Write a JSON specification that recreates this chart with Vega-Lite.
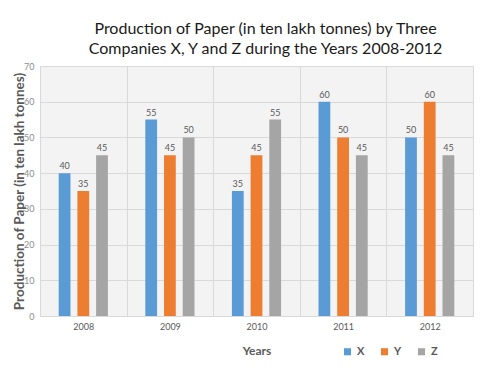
{
  "$schema": "https://vega.github.io/schema/vega-lite/v6.json",
  "autosize": "none",
  "width": 433,
  "height": 250,
  "padding": {"left": 40, "top": 66, "right": 20, "bottom": 58},
  "background": "white",
  "title": {
    "text": ["Production of Paper (in ten lakh tonnes) by Three", "Companies X, Y and Z during the Years 2008-2012"],
    "font": "Lato",
    "fontSize": 16,
    "fontWeight": "normal",
    "color": "#1a1a1a",
    "anchor": "middle",
    "frame": "group",
    "dx": 9,
    "offset": 5,
    "lineHeight": 20
  },
  "data": {
    "values": [
      {"year": "2008", "company": "X", "value": 40},
      {"year": "2008", "company": "Y", "value": 35},
      {"year": "2008", "company": "Z", "value": 45},
      {"year": "2009", "company": "X", "value": 55},
      {"year": "2009", "company": "Y", "value": 45},
      {"year": "2009", "company": "Z", "value": 50},
      {"year": "2010", "company": "X", "value": 35},
      {"year": "2010", "company": "Y", "value": 45},
      {"year": "2010", "company": "Z", "value": 55},
      {"year": "2011", "company": "X", "value": 60},
      {"year": "2011", "company": "Y", "value": 50},
      {"year": "2011", "company": "Z", "value": 45},
      {"year": "2012", "company": "X", "value": 50},
      {"year": "2012", "company": "Y", "value": 60},
      {"year": "2012", "company": "Z", "value": 45}
    ]
  },
  "encoding": {
    "x": {
      "field": "year",
      "type": "nominal",
      "scale": {"paddingInner": 0, "paddingOuter": 0},
      "axis": {
        "title": "Years",
        "titleFont": "Lato",
        "titleFontSize": 12,
        "titleFontWeight": "bold",
        "titleColor": "#595959",
        "titlePadding": 14,
        "labelAngle": 0,
        "labelFont": "Lato",
        "labelFontSize": 9,
        "labelColor": "#595959",
        "labelPadding": 6,
        "grid": true,
        "gridColor": "#d9d9d9",
        "tickBand": "extent",
        "ticks": false,
        "domain": true,
        "domainColor": "#d9d9d9"
      }
    },
    "xOffset": {
      "field": "company",
      "type": "nominal",
      "scale": {"paddingInner": 0.37, "paddingOuter": 1}
    },
    "y": {
      "field": "value",
      "type": "quantitative",
      "scale": {"domain": [0, 70]},
      "axis": {
        "values": [0, 10, 20, 30, 40, 50, 60, 70],
        "title": "Production of Paper (in ten lakh tonnes)",
        "titleFont": "Lato",
        "titleFontSize": 13.5,
        "titleFontWeight": "bold",
        "titleColor": "#595959",
        "titlePadding": -3,
        "labelFont": "Lato",
        "labelFontSize": 9,
        "labelColor": "#8c8c8c",
        "labelPadding": 6,
        "grid": true,
        "gridColor": "#d9d9d9",
        "ticks": false,
        "domain": false
      }
    }
  },
  "layer": [
    {
      "mark": {"type": "bar"},
      "encoding": {
        "color": {
          "field": "company",
          "type": "nominal",
          "scale": {"domain": ["X", "Y", "Z"], "range": ["#5B9BD5", "#ED7D31", "#A5A5A5"]},
          "legend": {
            "title": null,
            "orient": "none",
            "direction": "horizontal",
            "legendX": 302,
            "legendY": 280,
            "symbolType": "square",
            "symbolSize": 50,
            "labelFont": "Lato",
            "labelFontSize": 11,
            "labelFontWeight": "bold",
            "labelColor": "#595959",
            "columnPadding": 14
          }
        }
      }
    },
    {
      "mark": {"type": "text", "dy": -7, "font": "Lato", "fontSize": 9, "color": "#595959"},
      "encoding": {
        "text": {"field": "value", "type": "quantitative"}
      }
    }
  ],
  "config": {
    "view": {"stroke": "#d9d9d9", "fill": "#f3f3f3"}
  }
}
